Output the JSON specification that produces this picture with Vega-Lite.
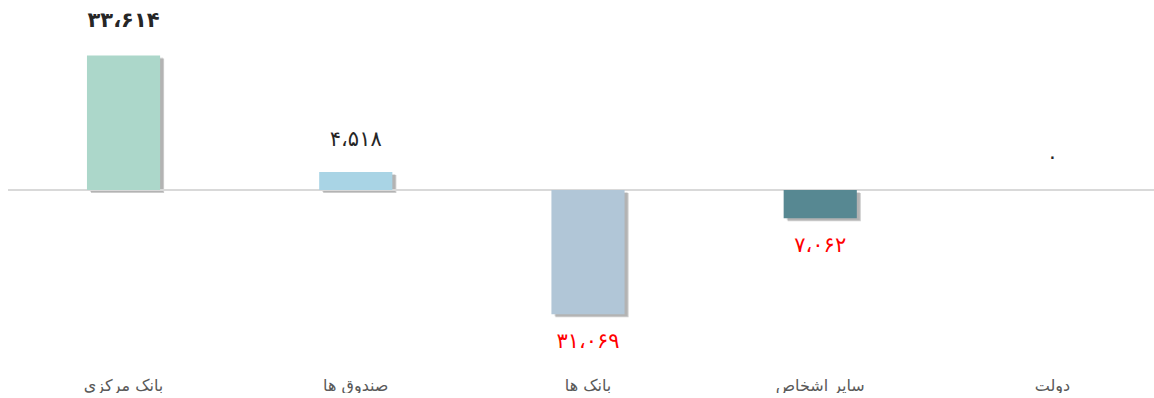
{
  "$schema": "https://vega.github.io/schema/vega-lite/v6.json",
  "width": 1160,
  "height": 360,
  "padding": {"left": 7, "top": 0, "right": 0, "bottom": 0},
  "autosize": {"type": "pad"},
  "background": "white",
  "config": {"view": {"stroke": null}},
  "data": {"values": [
    {"cat": "بانک مرکزی", "value": 33614, "label": "۳۳،۶۱۴"},
    {"cat": "صندوق ها", "value": 4518, "label": "۴،۵۱۸"},
    {"cat": "بانک ها", "value": -31069, "label": "۳۱،۰۶۹"},
    {"cat": "سایر اشخاص", "value": -7062, "label": "۷،۰۶۲"},
    {"cat": "دولت", "value": 0, "label": "۰"}
  ]},
  "layer": [
    {
      "mark": {"type": "bar", "color": "#000000", "opacity": 0.12, "xOffset": 3, "x2Offset": 7, "yOffset": 2, "y2Offset": 7},
      "transform": [{"filter": "datum.value != 0"}],
      "encoding": {
        "x": {"field": "cat", "type": "nominal", "sort": null,
          "scale": {"domain": ["بانک مرکزی", "صندوق ها", "بانک ها", "سایر اشخاص", "دولت"], "paddingInner": 0.685, "paddingOuter": 0.34},
          "axis": {"title": null, "domain": false, "ticks": false, "labelAngle": 0, "labelPadding": 17,
            "labelFont": "DejaVu Sans", "labelFontSize": 16, "labelColor": "#595959"}},
        "y": {"field": "value", "type": "quantitative", "scale": {"domain": [-42500, 47500], "nice": false, "zero": false}, "axis": null}
      }
    },
    {
      "mark": {"type": "bar", "color": "#000000", "opacity": 0.2, "xOffset": 4, "x2Offset": 5, "yOffset": 3, "y2Offset": 5},
      "transform": [{"filter": "datum.value != 0"}],
      "encoding": {
        "x": {"field": "cat", "type": "nominal", "sort": null},
        "y": {"field": "value", "type": "quantitative"}
      }
    },
    {
      "mark": {"type": "rule", "color": "#d9d9d9", "strokeWidth": 2},
      "encoding": {"y": {"datum": 0, "type": "quantitative"}}
    },
    {
      "mark": {"type": "bar"},
      "encoding": {
        "x": {"field": "cat", "type": "nominal", "sort": null},
        "y": {"field": "value", "type": "quantitative"},
        "color": {"field": "cat", "type": "nominal", "legend": null,
          "scale": {"domain": ["بانک مرکزی", "صندوق ها", "بانک ها", "سایر اشخاص", "دولت"],
            "range": ["#acd7ca", "#a9d4e5", "#b1c6d7", "#578892", "#ffffff"]}}
      }
    },
    {
      "mark": {"type": "text", "baseline": "middle", "dy": -32, "font": "DejaVu Sans", "fontSize": 21, "color": "#262626"},
      "transform": [{"filter": "datum.value >= 0 && datum.value < 30000"}],
      "encoding": {
        "x": {"field": "cat", "type": "nominal", "sort": null},
        "y": {"field": "value", "type": "quantitative"},
        "text": {"field": "label"}
      }
    },
    {
      "mark": {"type": "text", "baseline": "middle", "dy": -35, "font": "DejaVu Sans", "fontSize": 21, "fontWeight": "bold", "color": "#262626"},
      "transform": [{"filter": "datum.value >= 30000"}],
      "encoding": {
        "x": {"field": "cat", "type": "nominal", "sort": null},
        "y": {"field": "value", "type": "quantitative"},
        "text": {"field": "label"}
      }
    },
    {
      "mark": {"type": "text", "baseline": "middle", "dy": 28, "font": "DejaVu Sans", "fontSize": 21, "color": "#ff0000"},
      "transform": [{"filter": "datum.value < 0"}],
      "encoding": {
        "x": {"field": "cat", "type": "nominal", "sort": null},
        "y": {"field": "value", "type": "quantitative"},
        "text": {"field": "label"}
      }
    }
  ]
}
